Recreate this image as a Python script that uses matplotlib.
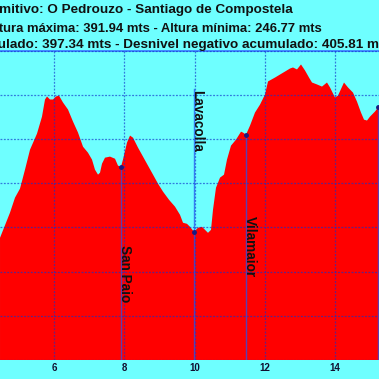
import matplotlib
matplotlib.use('Agg')
import matplotlib.pyplot as plt

# Profile data (km, altitude in m)
km = [4.463, 4.747, 4.890, 5.032, 5.174, 5.317, 5.516, 5.658, 5.744, 5.801,
      5.886, 5.972, 6.057, 6.142, 6.256, 6.399, 6.541, 6.683, 6.826, 6.968,
      7.082, 7.167, 7.253, 7.310, 7.367, 7.452, 7.594, 7.737, 7.822, 7.907,
      7.964, 8.078, 8.164, 8.249, 8.391, 8.534, 8.676, 8.819, 8.961, 9.103,
      9.274, 9.445, 9.587, 9.673, 9.786, 9.872, 9.986, 10.100, 10.214, 10.299,
      10.384, 10.470, 10.527, 10.612, 10.726, 10.840, 10.925, 11.039, 11.182, 11.324,
      11.381, 11.466, 11.580, 11.722, 11.865, 12.007, 12.093, 12.292, 12.434, 12.577,
      12.719, 12.804, 12.918, 13.032, 13.146, 13.260, 13.345, 13.488, 13.630, 13.772,
      13.858, 14.000, 14.085, 14.256, 14.370, 14.512, 14.626, 14.740, 14.826, 14.911,
      14.996, 15.139, 15.224, 15.281]
elev = [294.1, 308.3, 316.8, 321.9, 332.6, 343.9, 353.0, 362.6, 372.3, 374.0,
        372.3, 372.3, 374.0, 374.5, 370.6, 366.6, 359.8, 353.6, 345.6, 342.2,
        338.3, 332.6, 329.8, 330.9, 336.0, 339.4, 340.0, 338.8, 334.9, 334.3,
        338.3, 347.9, 351.9, 350.7, 345.1, 340.0, 334.9, 329.8, 324.7, 320.2,
        315.6, 311.7, 307.1, 302.6, 302.0, 300.3, 297.5, 299.8, 300.3, 298.6,
        296.9, 298.6, 310.0, 322.4, 328.1, 329.8, 338.3, 346.2, 349.6, 354.1,
        353.6, 352.4, 357.5, 364.9, 369.4, 375.1, 382.5, 384.7, 386.4, 388.1,
        389.8, 390.4, 389.3, 392.1, 388.7, 384.7, 381.9, 380.8, 379.6, 381.9,
        379.1, 373.4, 374.5, 381.9, 379.1, 376.2, 371.1, 364.9, 360.9, 360.4,
        362.6, 365.5, 367.7, 368.3]

waypoint_names = ['San Paio', 'Lavacolla', 'Vilamaior', 'San Marcos']
waypoint_km = [7.907, 9.986, 11.466, 15.215]
waypoint_elev = [334.3, 297.5, 352.4, 367.9]
label_km = [8.021, 10.071, 11.580, 15.338]
label_elev = [274.0, 360.4, 289.3, 301.2]

title_lines = ['Perfil primitivo: O Pedrouzo - Santiago de Compostela',
               'Altura máxima: 391.94 mts - Altura mínima: 246.77 mts',
               'Desnivel positivo acumulado: 397.34 mts - Desnivel negativo acumulado: 405.81 mts']

x_ticks = [6, 8, 10, 12, 14]
y_ticks = [225, 250, 275, 300, 325, 350, 375, 400]

BG = '#6EFFFF'
FILL = '#FF0000'
FONT = 'Liberation Sans'

W = H = 379
fig = plt.figure(figsize=(W / 100, H / 100), dpi=100, facecolor=BG)
ax = fig.add_axes([0, 1 - 360 / H, 1, (360 - 50.5) / H])
ax.set_facecolor(BG)

ax.fill_between(km, elev, 225, color=FILL, linewidth=0, zorder=1)

ax.set_xticks(x_ticks)
ax.set_yticks(y_ticks)
ax.set_xlim(6 - 54 / 35.125, 6 + (W - 54) / 35.125)
ax.set_ylim(225, 400)
ax.set_xticklabels([str(t) for t in x_ticks], fontfamily=FONT,
                   fontweight='bold', fontsize=7, color='#101030')
ax.tick_params(axis='x', length=0, pad=2.5)
ax.tick_params(axis='y', length=0, labelleft=False)
ax.grid(True, color='#1133CC', alpha=0.65, linestyle=(0, (1.5, 1.2)),
        linewidth=0.9, zorder=2)
ax.set_axisbelow(False)

for s in ['left', 'right', 'bottom']:
    ax.spines[s].set_visible(False)
ax.spines['top'].set_color('#3F8CFF')
ax.spines['top'].set_linewidth(1.4)

# waypoint lines, markers and labels
for name, wk, we, lk, le in zip(waypoint_names, waypoint_km, waypoint_elev,
                                label_km, label_elev):
    top = we
    if name == 'Lavacolla':
        top = 378.0
    ax.plot([wk, wk], [225, top], color='#2255EE', alpha=0.75,
            linewidth=1.0, zorder=3)
    ax.plot([wk], [we], marker='o', markersize=2.5, color='#1A1A80',
            zorder=4)
    ax.text(lk, le, name, rotation=270, ha='center', va='center',
            fontfamily=FONT, fontweight='bold', fontsize=9.8,
            color='#111111', zorder=5)

# title lines (centered title, partially outside the crop)
title_right = [293, 321.5, 391]
title_base = [13.3, 31.7, 48.3]
title_size = [9.7, 9.35, 9.7]
for txt, xr, yb, fs in zip(title_lines, title_right, title_base, title_size):
    fig.text(xr / W, 1 - yb / H, txt, ha='right', va='baseline',
             fontfamily=FONT, fontweight='bold', fontsize=fs,
             color='#111111')

fig.savefig('out.png', dpi=100, facecolor=BG)
